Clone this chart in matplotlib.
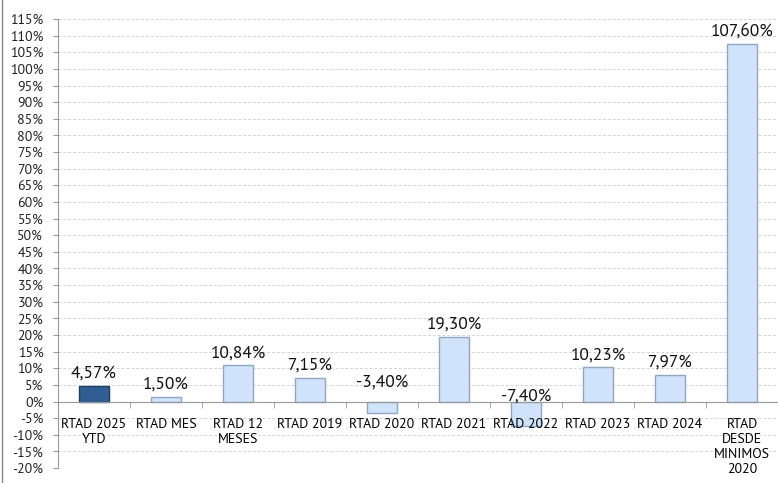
import matplotlib
matplotlib.use("Agg")
import matplotlib.pyplot as plt
import numpy as np
from matplotlib.lines import Line2D
from matplotlib import font_manager

categories = ["RTAD 2025\nYTD", "RTAD MES", "RTAD 12\nMESES", "RTAD 2019", "RTAD 2020",
              "RTAD 2021", "RTAD 2022", "RTAD 2023", "RTAD 2024", "RTAD\nDESDE\nMINIMOS\n2020"]
values = [4.57, 1.50, 10.84, 7.15, -3.40, 19.30, -7.40, 10.23, 7.97, 107.60]
labels = ["4,57%", "1,50%", "10,84%", "7,15%", "-3,40%", "19,30%", "-7,40%", "10,23%", "7,97%", "107,60%"]
yticks = list(range(-20, 116, 5))

installed = set(f.name for f in font_manager.fontManager.ttflist)
fam = [f for f in ['PT Sans', 'Lato'] if f in installed][:1] + ['DejaVu Sans']
plt.rcParams['font.family'] = fam

fig = plt.figure(figsize=(7.78, 4.83), dpi=100)
ax = fig.add_axes([0.0746, 0.031, 0.9254, 0.9296])

n = len(categories)
x = np.arange(n)
colors = ["#2F5E93"] + ["#CFE3FA"] * (n - 1)
edges = ["#1F3F66"] + ["#8FA7C4"] * (n - 1)
ax.bar(x, values, width=0.42, color=colors, edgecolor=edges, linewidth=1.0, zorder=1)

for xi, v, lab in zip(x, values, labels):
    if v >= 0:
        ax.text(xi, v + 1.3, lab, ha='center', va='bottom', fontsize=12.5, color='#111111', zorder=4)
    else:
        ax.text(xi, v + 9.0, lab, ha='center', va='center', fontsize=12.5, color='#111111', zorder=4)

for t in yticks:
    if t != 0:
        ax.axhline(t, linestyle=(0, (3, 2)), color='#D3D3D3', linewidth=0.7, zorder=0)

ax.set_xlim(-0.5, n - 0.5)
ax.set_ylim(-20, 115)
ax.set_yticks(yticks)
ax.set_yticklabels([f"{t}%" for t in yticks], fontsize=10, color='#222222')
ax.set_axisbelow(False)

ax.set_xticks(x)
ax.set_xticklabels(categories, fontsize=9.5, color='#222222', linespacing=1.2)
ax.set_xticks(np.arange(-0.5, n, 1.0)[1:], minor=True)
ax.tick_params(axis='x', which='major', length=0, pad=12)
ax.tick_params(axis='x', which='minor', length=4, color='#999999', direction='out')
ax.tick_params(axis='y', length=3.6, color='#999999', pad=7)

ax.spines['bottom'].set_position(('data', 0))
ax.spines['bottom'].set_color('#999999')
ax.spines['left'].set_color('#999999')
ax.spines['top'].set_visible(False)
ax.spines['right'].set_visible(False)

fig.add_artist(Line2D([0.002, 0.002], [0, 1], transform=fig.transFigure, color='#888888', linewidth=1))

fig.savefig("out.png", dpi=100)
